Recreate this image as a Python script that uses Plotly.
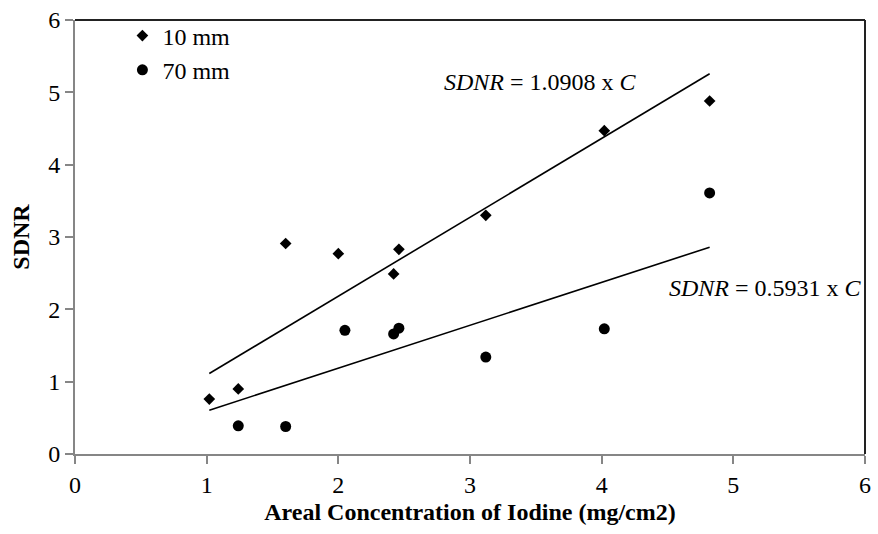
import plotly.graph_objects as go

# ---- data ----
conc_10mm = [1.02, 1.24, 1.60, 2.00, 2.42, 2.46, 3.12, 4.02, 4.82]
sdnr_10mm = [0.76, 0.90, 2.91, 2.77, 2.49, 2.83, 3.30, 4.47, 4.88]

conc_70mm = [1.24, 1.60, 2.05, 2.42, 2.46, 3.12, 4.02, 4.82]
sdnr_70mm = [0.39, 0.38, 1.71, 1.66, 1.74, 1.34, 1.73, 3.61]

slope_10mm = 1.0908
slope_70mm = 0.5931

x_ticks = [0, 1, 2, 3, 4, 5, 6]
y_ticks = [0, 1, 2, 3, 4, 5, 6]

FONT = "Liberation Serif, Times New Roman, serif"

fit_x = [min(conc_10mm), max(conc_10mm)]
fit_10 = [slope_10mm * v for v in fit_x]
fit_70 = [slope_70mm * v for v in fit_x]

fig = go.Figure()
fig.add_trace(go.Scatter(x=fit_x, y=fit_10, mode="lines",
                         line=dict(color="black", width=1.6),
                         showlegend=False, hoverinfo="skip"))
fig.add_trace(go.Scatter(x=fit_x, y=fit_70, mode="lines",
                         line=dict(color="black", width=1.6),
                         showlegend=False, hoverinfo="skip"))
fig.add_trace(go.Scatter(x=conc_10mm, y=sdnr_10mm, mode="markers", name="10 mm",
                         marker=dict(symbol="diamond", size=9, color="black")))
fig.add_trace(go.Scatter(x=conc_70mm, y=sdnr_70mm, mode="markers", name="70 mm",
                         marker=dict(symbol="circle", size=11, color="black")))

fig.add_annotation(x=2.79, y=5.14, xref="x", yref="y", xanchor="left", yanchor="middle",
                   text="<i>SDNR</i> = 1.0908 x <i>C</i>", showarrow=False,
                   font=dict(family=FONT, size=24, color="black"))
fig.add_annotation(x=4.495, y=2.29, xref="x", yref="y", xanchor="left", yanchor="middle",
                   text="<i>SDNR</i> = 0.5931 x <i>C</i>", showarrow=False,
                   font=dict(family=FONT, size=24, color="black"))

# top and right plot-area border
fig.add_shape(type="line", xref="x domain", yref="y domain", x0=0, x1=1, y0=1, y1=1,
              line=dict(color="#222222", width=2))
fig.add_shape(type="line", xref="x domain", yref="y domain", x0=1, x1=1, y0=0, y1=1,
              line=dict(color="#222222", width=2))

axis_common = dict(
    showgrid=False, zeroline=False, showline=True, linecolor="#868686", linewidth=2,
    ticks="outside", ticklen=8, tickwidth=2, tickcolor="#868686",
    tickfont=dict(family=FONT, size=24, color="black"),
    range=[0, 6], tickmode="array",
)

fig.update_layout(
    width=878, height=534,
    margin=dict(l=75, r=7, t=15, b=80),
    paper_bgcolor="white", plot_bgcolor="white",
    font=dict(family=FONT, size=24, color="black"),
    xaxis=dict(**axis_common, tickvals=x_ticks, ticktext=[str(v) for v in x_ticks],
               title=dict(text="<b>Areal Concentration of Iodine (mg/cm2)</b>",
                          font=dict(family=FONT, size=24, color="black"), standoff=6)),
    yaxis=dict(**axis_common, tickvals=y_ticks, ticktext=[str(v) for v in y_ticks],
               title=dict(text="<b>SDNR</b>",
                          font=dict(family=FONT, size=24, color="black"), standoff=12)),
    legend=dict(x=0.06, y=1.015, xanchor="left", yanchor="top",
                bgcolor="rgba(0,0,0,0)", font=dict(family=FONT, size=24, color="black"),
                itemwidth=30, tracegroupgap=0),
    showlegend=True,
)

fig.write_html("out.html", config={"displayModeBar": False},
               post_script="document.body.style.margin='0';document.body.style.overflow='hidden';")
